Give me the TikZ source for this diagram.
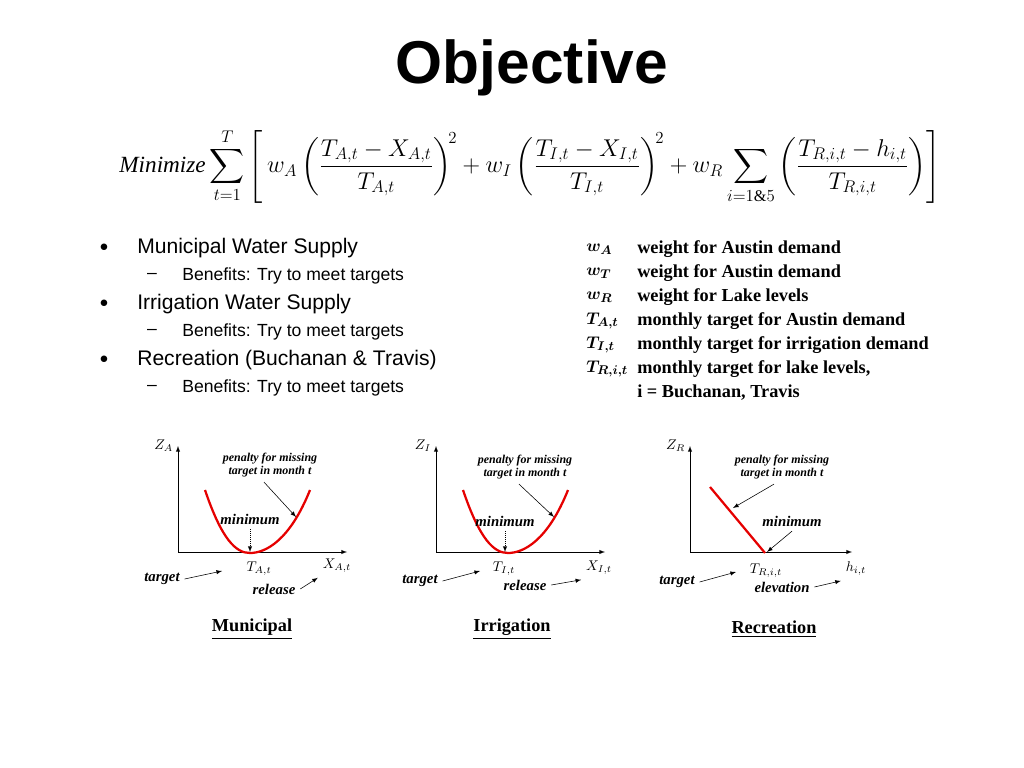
\documentclass[tikz,border=0pt]{standalone}
\usepackage{fontspec}
\setmainfont{Liberation Serif}
\setsansfont{Liberation Sans}
\usepackage{amsmath}
\usetikzlibrary{positioning}
\tikzset{
    note/.style={font=\fontsize{8.5}{9.5}\selectfont\bfseries\itshape, align=center},
    lbl/.style={font=\fontsize{10}{11}\selectfont},
    word/.style={font=\fontsize{10.5}{11}\selectfont\bfseries\itshape},
    axis/.style={-latex, thin},
    pointer/.style={-latex, thin},
    penalty/.style={red!90!black, line width=1.6pt},
    legend/.style={font=\fontsize{13}{15.5}\selectfont\bfseries, anchor=west, inner sep=0pt},
    head/.style={font=\fontsize{13}{15}\selectfont\bfseries}
}
\begin{document}
\begin{tikzpicture}[x=0.025cm,y=-0.025cm]
    \useasboundingbox (0,0) rectangle (1024,768);

    % title and objective
    \node[font=\sffamily\bfseries\fontsize{43}{50}\selectfont] (title) at (532,68) {Objective};
    \node[font=\fontsize{16.5}{19}\selectfont] (formula) at (530,166) {$\displaystyle\mathit{Minimize}\sum\limits_{t=1}^{T}\left[\, w_A\left(\frac{T_{A,t}-X_{A,t}}{T_{A,t}}\right)^{\!2} + w_I\left(\frac{T_{I,t}-X_{I,t}}{T_{I,t}}\right)^{\!2} + w_R\sum\limits_{i=1\&5}\left(\frac{T_{R,i,t}-h_{i,t}}{T_{R,i,t}}\right)\right]$};

    % bullets
    \foreach \y/\txt in {248/Municipal Water Supply, 304/Irrigation Water Supply, 360/Recreation (Buchanan \& Travis)} {
        \node[font=\sffamily\fontsize{15}{18}\selectfont, anchor=west, inner sep=0pt] at (137,\y) {\txt};
        \node[font=\sffamily\fontsize{13}{15}\selectfont] at (104,\y) {$\bullet$};
    }
    \foreach \y in {276,332,388} {
        \node[font=\sffamily\fontsize{12.5}{15}\selectfont, anchor=west, inner sep=0pt] at (182,\y) {Benefits: Try to meet targets};
        \node[font=\sffamily\fontsize{12.5}{15}\selectfont] at (152,\y) {--};
    }

    % legend
    \foreach \y/\sym/\txt in {249/$\boldsymbol{w_A}$/weight for Austin demand, 273/$\boldsymbol{w_T}$/weight for Austin demand,
        297/$\boldsymbol{w_R}$/weight for Lake levels, 321/$\boldsymbol{T_{A,t}}$/monthly target for Austin demand,
        345/$\boldsymbol{T_{I,t}}$/monthly target for irrigation demand, 369/$\boldsymbol{T_{R,i,t}}$/monthly target for lake levels{,},
        393//i = Buchanan{,} Travis} {
        \node[legend] at (586,\y) {\sym};
        \node[legend] at (637,\y) {\txt};
    }

    % municipal
    \coordinate (oA) at (178,552);
    \draw[axis] (oA) -- (178,446) node[lbl, left=0pt] (zA) {$Z_A$};
    \draw[axis] (oA) -- (347,552);
    \draw[penalty] (205,490) .. controls (222,540) and (236,553) .. (250,553)
        .. controls (266,553) and (290,540) .. (310,490);
    \node[note] (penA) at (270,465) {penalty for missing\\target in month t};
    \draw[pointer] (penA.south) ++(-6,0) -- (296,517);
    \node[word] (minA) at (250,519) {minimum};
    \draw[pointer, densely dotted] (minA.south) -- (250,552);
    \node[lbl] (tA) at (259,569) {$T_{A,t}$};
    \node[lbl] (xA) at (337,566) {$X_{A,t}$};
    \node[word] (tgA) at (162,579) {target};
    \draw[pointer] (tgA.east) -- (222,571);
    \node[word] (relA) at (274,589) {release};
    \draw[pointer] (relA.east) -- (xA.south west);
    \node[head] (hA) at (252,629) {\underline{Municipal}};

    % irrigation
    \coordinate (oI) at (436,552);
    \draw[axis] (oI) -- (436,446) node[lbl, left=0pt] (zI) {$Z_I$};
    \draw[axis] (oI) -- (605,552);
    \draw[penalty] (463,490) .. controls (480,540) and (494,553) .. (508,553)
        .. controls (524,553) and (548,540) .. (568,490);
    \node[note] (penI) at (525,467) {penalty for missing\\target in month t};
    \draw[pointer] (penI.south) ++(-6,0) -- (554,517);
    \node[word] (minI) at (505,521) {minimum};
    \draw[pointer, densely dotted] (minI.south) -- (505,552);
    \node[lbl] (tI) at (504,569) {$T_{I,t}$};
    \node[lbl] (xI) at (599,568) {$X_{I,t}$};
    \node[word] (tgI) at (420,581) {target};
    \draw[pointer] (tgI.east) -- (480,571);
    \node[word] (relI) at (525,585) {release};
    \draw[pointer] (relI.east) -- (xI.south west);
    \node[head] (hI) at (512,629) {\underline{Irrigation}};

    % recreation
    \coordinate (oR) at (690,552);
    \draw[axis] (oR) -- (690,446) node[lbl, left=0pt] (zR) {$Z_R$};
    \draw[axis] (oR) -- (852,552);
    \draw[penalty] (710,487) -- (765,553);
    \node[note] (penR) at (782,467) {penalty for missing\\target in month t};
    \draw[pointer] (penR.south) ++(-8,0) -- (733,508);
    \node[word] (minR) at (792,521) {minimum};
    \draw[pointer] (minR.south) -- (767,552);
    \node[lbl] (tR) at (766,571) {$T_{R,i,t}$};
    \node[lbl] (xR) at (856,569) {$h_{i,t}$};
    \node[word] (tgR) at (677,582) {target};
    \draw[pointer] (tgR.east) -- (736,572);
    \node[word] (elR) at (782,587) {elevation};
    \draw[pointer] (elR.east) -- (xR.south west);
    \node[head] (hR) at (774,629) {\underline{Recreation}};
\end{tikzpicture}
\end{document}
